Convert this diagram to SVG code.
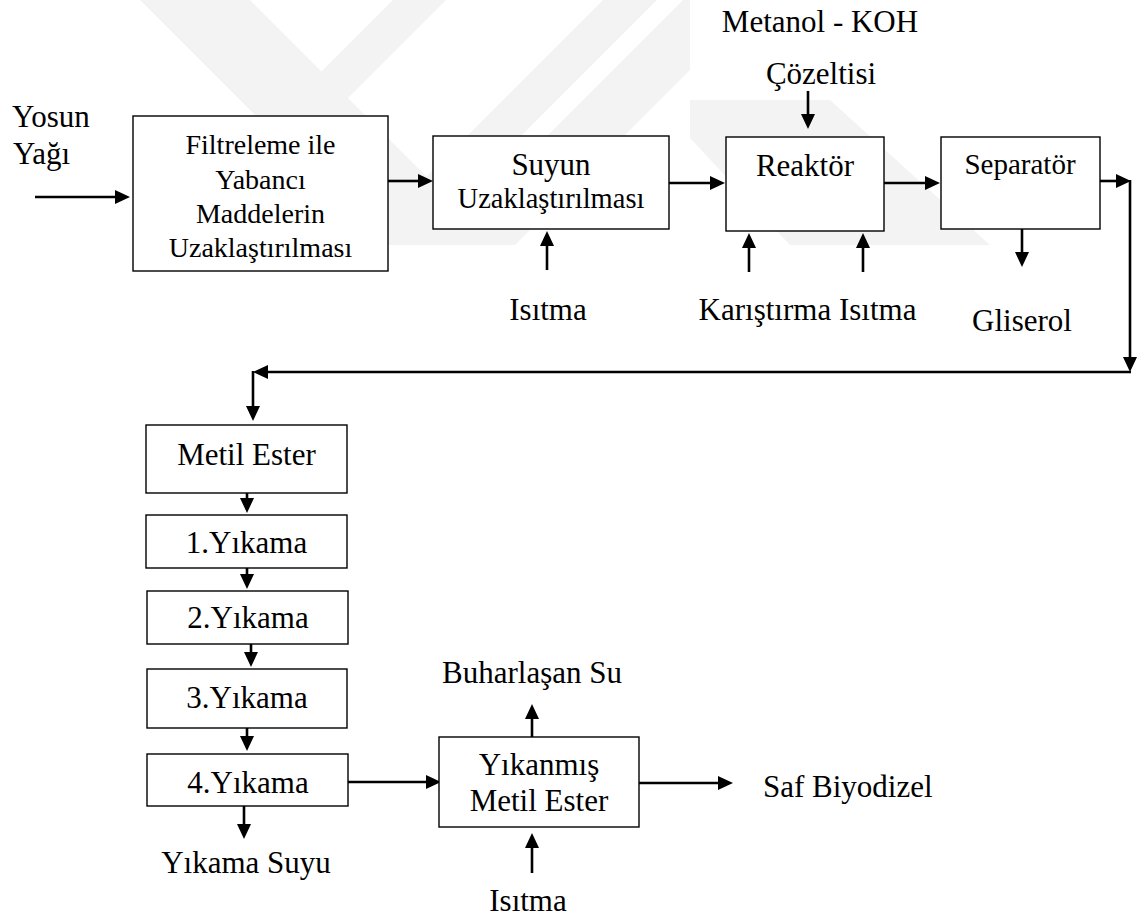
<svg xmlns="http://www.w3.org/2000/svg" width="1137" height="919" viewBox="0 0 1137 919">
  <style>
    .box { fill: #ffffff; stroke: #000000; stroke-width: 1.4; }
    .t { font-family: "Liberation Serif", "Times New Roman", serif; font-size: 31px; fill: #000000; }
    .s { font-size: 28px; }
    .c { text-anchor: middle; }
    .ln { fill: none; stroke: #000000; stroke-width: 2.6; }
    .wm { fill: #f3f3f3; stroke: none; }
  </style>
  <defs>
    <marker id="ah" viewBox="0 0 15 14" refX="1" refY="7" markerWidth="15" markerHeight="14" markerUnits="userSpaceOnUse" orient="auto">
      <path d="M0,0 L15,7 L0,14 Z" fill="#000000"/>
    </marker>
  </defs>
  <rect width="1137" height="919" fill="#ffffff"/>

  <g id="watermark">
    <polygon class="wm" points="140,0 250,0 495,245 385,245"/>
    <polygon class="wm" points="393,0 446,0 201,245 148,245"/>
    <polygon class="wm" points="603,0 657,0 412,245 358,245"/>
    <polygon class="wm" points="683,0 760,0 515,245 438,245"/>
    <polygon class="wm" points="690,100 830,100 990,245 790,245 690,138"/>
    <rect x="690" y="0" width="320" height="100" fill="#ffffff"/>
  </g>

  <g id="connectors">
    <line class="ln" x1="35" y1="197" x2="116" y2="197" marker-end="url(#ah)"/>
    <line class="ln" x1="388" y1="181" x2="419" y2="181" marker-end="url(#ah)"/>
    <line class="ln" x1="669" y1="183" x2="711" y2="183" marker-end="url(#ah)"/>
    <line class="ln" x1="884" y1="183" x2="926" y2="183" marker-end="url(#ah)"/>
    <line class="ln" x1="547" y1="270" x2="547" y2="245" marker-end="url(#ah)"/>
    <line class="ln" x1="808" y1="91" x2="808" y2="115" marker-end="url(#ah)"/>
    <line class="ln" x1="749" y1="272" x2="749" y2="247" marker-end="url(#ah)"/>
    <line class="ln" x1="863" y1="272" x2="863" y2="247" marker-end="url(#ah)"/>
    <line class="ln" x1="1022" y1="229" x2="1022" y2="253" marker-end="url(#ah)"/>
    <line class="ln" x1="1100" y1="181" x2="1117" y2="181" marker-end="url(#ah)"/>
    <line class="ln" x1="1130" y1="180" x2="1130" y2="358" marker-end="url(#ah)"/>
    <line class="ln" x1="1131" y1="372" x2="267" y2="372" marker-end="url(#ah)"/>
    <line class="ln" x1="253" y1="371" x2="253" y2="407" marker-end="url(#ah)"/>
    <line class="ln" x1="247" y1="493" x2="247" y2="499" marker-end="url(#ah)"/>
    <line class="ln" x1="247" y1="568" x2="247" y2="575" marker-end="url(#ah)"/>
    <line class="ln" x1="251" y1="644" x2="251" y2="653" marker-end="url(#ah)"/>
    <line class="ln" x1="247" y1="728" x2="247" y2="737" marker-end="url(#ah)"/>
    <line class="ln" x1="244" y1="806" x2="244" y2="825" marker-end="url(#ah)"/>
    <line class="ln" x1="348" y1="782" x2="427" y2="782" marker-end="url(#ah)"/>
    <line class="ln" x1="532" y1="737" x2="532" y2="718" marker-end="url(#ah)"/>
    <line class="ln" x1="532" y1="873" x2="532" y2="847" marker-end="url(#ah)"/>
    <line class="ln" x1="639" y1="783" x2="719" y2="783" marker-end="url(#ah)"/>
  </g>

  <g id="label-yosun">
    <text class="t" x="12" y="127">Yosun</text>
    <text class="t" x="13" y="164">Yağı</text>
  </g>

  <g id="node-filtreleme">
    <rect class="box" x="133" y="116" width="255" height="155"/>
    <text class="t s c" x="260.5" y="154">Filtreleme ile</text>
    <text class="t s c" x="260.5" y="189">Yabancı</text>
    <text class="t s c" x="260.5" y="223">Maddelerin</text>
    <text class="t s c" x="260.5" y="257">Uzaklaştırılması</text>
  </g>

  <g id="node-suyun">
    <rect class="box" x="433" y="136" width="236" height="93"/>
    <text class="t c" x="551" y="175">Suyun</text>
    <text class="t c" x="551" y="208" style="font-size:28.5px">Uzaklaştırılması</text>
  </g>
  <text class="t c" x="548" y="320">Isıtma</text>

  <text class="t c" x="820" y="32">Metanol - KOH</text>
  <text class="t c" x="821" y="84">Çözeltisi</text>

  <g id="node-reaktor">
    <rect class="box" x="726" y="137" width="158" height="94"/>
    <text class="t c" x="805" y="176">Reaktör</text>
  </g>
  <text class="t c" x="807.5" y="320">Karıştırma Isıtma</text>

  <g id="node-separator">
    <rect class="box" x="941" y="137" width="159" height="92"/>
    <text class="t c" x="1020" y="174" style="font-size:29px">Separatör</text>
  </g>
  <text class="t c" x="1022" y="331">Gliserol</text>

  <g id="node-metil-ester">
    <rect class="box" x="146" y="425" width="201" height="68"/>
    <text class="t c" x="246.5" y="465">Metil Ester</text>
  </g>
  <g id="node-yikama1">
    <rect class="box" x="146" y="515" width="201" height="53"/>
    <text class="t c" x="246.5" y="553">1.Yıkama</text>
  </g>
  <g id="node-yikama2">
    <rect class="box" x="147" y="591" width="201" height="53"/>
    <text class="t c" x="248" y="628">2.Yıkama</text>
  </g>
  <g id="node-yikama3">
    <rect class="box" x="147" y="669" width="200" height="59"/>
    <text class="t c" x="247" y="708">3.Yıkama</text>
  </g>
  <g id="node-yikama4">
    <rect class="box" x="147" y="754" width="201" height="52"/>
    <text class="t c" x="248" y="793">4.Yıkama</text>
  </g>
  <text class="t c" x="246" y="873">Yıkama Suyu</text>

  <g id="node-yikanmis">
    <rect class="box" x="439" y="737" width="200" height="90"/>
    <text class="t c" x="539" y="775">Yıkanmış</text>
    <text class="t c" x="539" y="811">Metil Ester</text>
  </g>
  <text class="t c" x="532" y="683">Buharlaşan Su</text>
  <text class="t c" x="528" y="911">Isıtma</text>
  <text class="t" x="763" y="797">Saf Biyodizel</text>
</svg>
